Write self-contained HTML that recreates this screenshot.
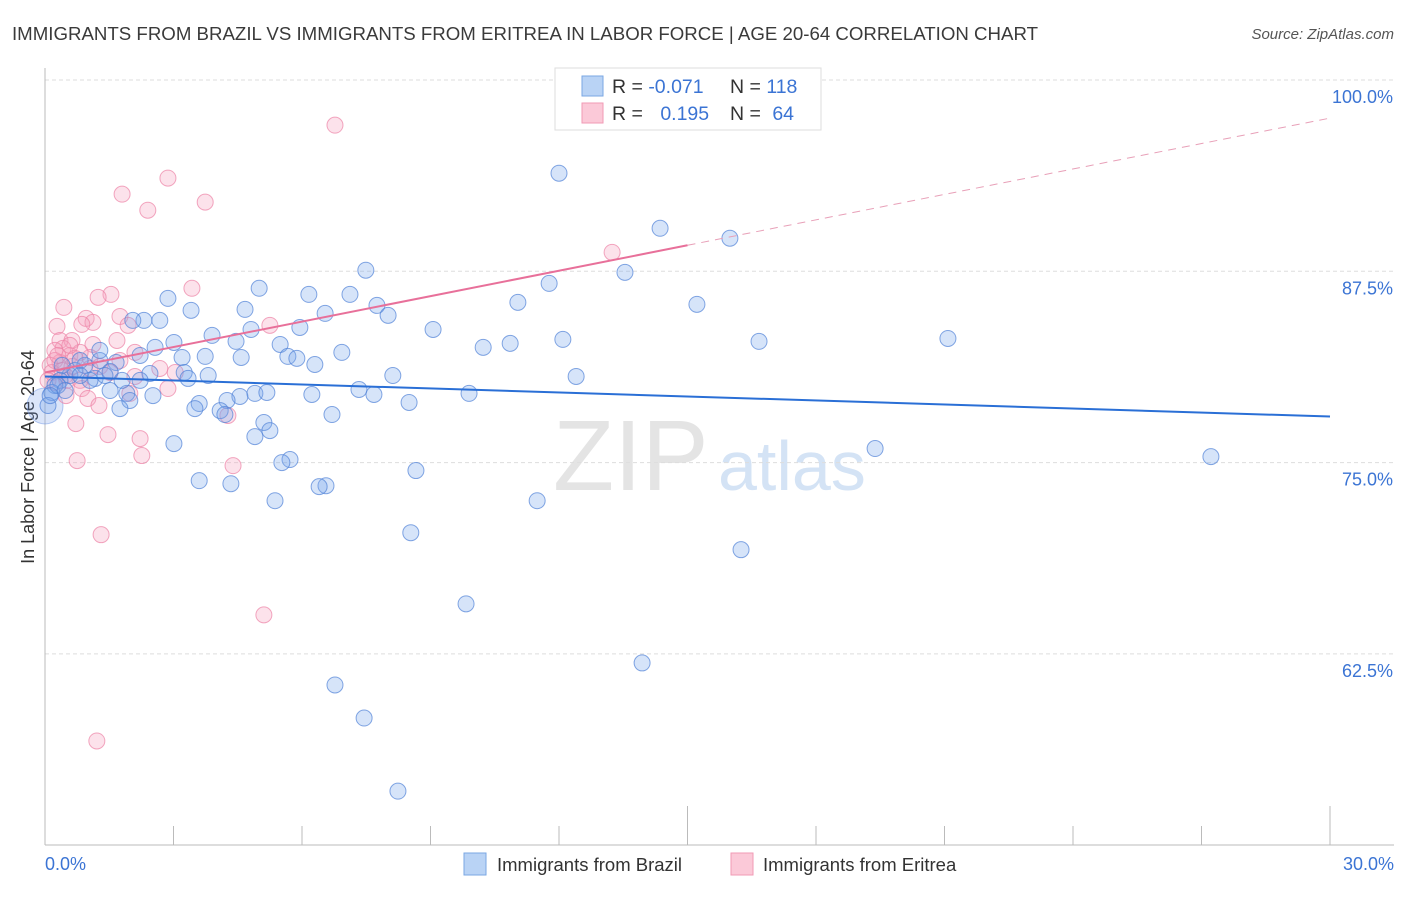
<!DOCTYPE html>
<html><head><meta charset="utf-8"><style>
body{margin:0;background:#fff;font-family:"Liberation Sans",sans-serif;}
svg text{font-family:"Liberation Sans",sans-serif;}
</style></head><body>
<svg id="chart" width="1406" height="892" xmlns="http://www.w3.org/2000/svg">
<text x="12" y="40" font-size="18" textLength="1026" lengthAdjust="spacingAndGlyphs" fill="#3a3a3a">IMMIGRANTS FROM BRAZIL VS IMMIGRANTS FROM ERITREA IN LABOR FORCE | AGE 20-64 CORRELATION CHART</text>
<text x="1394" y="39" font-size="15" fill="#555" font-style="italic" text-anchor="end">Source: ZipAtlas.com</text>
<text transform="translate(34,457) rotate(-90)" font-size="18" fill="#333" text-anchor="middle">In Labor Force | Age 20-64</text>
<g>
<text x="553" y="490" font-size="100" font-family="Liberation Serif,serif" fill="#e4e4e4">ZIP</text>
<text x="718" y="490" font-size="70" fill="#d4e3f5">atlas</text>
</g>
<g id="grid"></g><g id="axes"></g><g id="marks"></g>
<g>
<rect x="555" y="68" width="266" height="62" fill="#fff" stroke="#ddd"/>
<rect x="582" y="76" width="21" height="20" fill="#b9d3f5" stroke="#7aa7e3"/>
<rect x="582" y="103" width="21" height="20" fill="#fbc9d8" stroke="#f09ab5"/>
<text x="612" y="93" font-size="19.5" fill="#333">R = <tspan fill="#3b74d4">-0.071</tspan></text>
<text x="730" y="93" font-size="19.5" fill="#333">N = <tspan fill="#3b74d4">118</tspan></text>
<text x="612" y="120" font-size="19.5" fill="#333">R = <tspan fill="#3b74d4" dx="12">0.195</tspan></text>
<text x="730" y="120" font-size="19.5" fill="#333">N = <tspan fill="#3b74d4" dx="6">64</tspan></text>
</g>
<g>
<rect x="464" y="853" width="22" height="22" fill="#b9d3f5" stroke="#7aa7e3"/>
<text x="497" y="871" font-size="18.5" fill="#333">Immigrants from Brazil</text>
<rect x="731" y="853" width="22" height="22" fill="#fbc9d8" stroke="#f09ab5"/>
<text x="763" y="871" font-size="18.5" fill="#333">Immigrants from Eritrea</text>
</g>
</svg>
<script>
const yTicks=[100,87.5,75,62.5];
const yTickLabels=["100.0%","87.5%","75.0%","62.5%"];
const xTickLabels=["0.0%","30.0%"];
const brazilX=[12.00,14.36,15.99,7.49,13.54,5.00,7.12,6.16,2.87,11.04,11.77,15.22,3.41,4.67,7.75,8.01,6.54,2.31,2.68,2.05,9.06,5.95,3.90,4.46,4.81,3.01,2.57,12.09,10.86,10.23,16.67,21.08,5.49,6.93,5.67,5.88,6.30,3.74,3.20,2.22,1.66,1.28,4.58,3.25,2.45,1.52,3.81,3.34,1.17,0.58,0.35,0.23,0.16,8.12,12.40,7.33,7.68,6.23,4.90,5.18,4.55,4.25,2.52,1.91,1.52,1.98,9.90,8.50,3.60,3.50,4.09,4.20,1.75,6.70,5.11,5.25,4.90,3.01,19.38,27.22,5.72,5.53,8.66,3.60,4.34,6.56,6.40,5.37,11.49,8.54,16.25,9.83,13.94,6.77,7.45,8.24,0.07,0.30,0.70,0.93,1.05,0.47,0.12,0.82,1.28,0.82,0.40,1.40,1.80,2.22];
const brazilY=[93.91,90.31,89.66,87.57,87.43,86.39,85.99,85.99,85.73,85.47,86.71,85.34,84.95,85.01,85.27,84.62,84.75,84.29,84.29,84.29,83.70,83.83,83.31,82.92,83.70,82.85,82.53,83.05,82.79,82.53,82.92,83.11,82.72,82.20,81.94,81.81,81.41,81.94,81.87,82.00,81.54,81.67,81.87,80.89,80.82,80.95,80.69,80.50,80.50,80.69,80.37,80.04,79.58,80.69,80.63,79.78,79.45,79.45,79.52,79.58,79.32,79.06,79.38,79.52,79.71,79.06,79.52,78.93,78.86,78.53,78.40,78.14,78.53,78.14,77.62,77.09,76.70,76.24,75.92,75.39,75.20,75.00,74.48,73.82,73.62,73.49,73.43,72.51,72.51,70.42,69.31,65.77,61.91,60.47,58.31,53.53,78.73,80.04,81.02,81.35,80.37,79.71,79.38,81.67,82.33,80.69,81.35,80.69,80.37,80.37];
const eritreaX=[6.77,2.87,1.80,3.74,2.40,3.43,1.54,1.24,0.44,0.96,1.12,1.75,1.94,5.25,0.28,0.86,0.35,0.63,1.68,1.12,2.10,0.42,0.23,0.58,1.05,0.82,0.35,0.12,0.63,1.28,2.68,3.04,0.16,0.47,1.52,2.10,0.82,0.86,2.87,1.98,1.00,1.26,4.27,0.72,1.47,2.22,2.26,0.75,4.39,13.24,1.31,5.11,1.21,0.23,0.51,0.23,0.40,0.07,1.05,0.70,0.30,0.58,1.75,0.49];
const eritreaY=[97.05,93.59,92.54,92.02,91.49,86.39,85.99,85.80,85.14,84.42,84.16,84.55,83.97,83.97,83.90,84.03,82.98,82.98,82.98,82.72,82.20,82.46,82.33,82.00,81.87,82.20,81.54,81.35,81.28,81.28,81.15,80.89,80.89,80.69,80.89,80.63,80.37,79.84,79.84,79.52,79.19,78.73,78.08,77.55,76.83,76.57,75.46,75.13,74.80,88.74,70.29,65.05,56.81,81.67,80.37,80.24,81.02,80.37,81.15,81.81,82.00,82.66,81.67,79.38];
const brazilTrend=[80.63,78.01];   // y at x=0 and x=30
const eritreaTrend=[80.89,97.51]; // y at x=0 and x=30
const eritreaSolidEnd=15;

const NS="http://www.w3.org/2000/svg";
const X0=45,X1=1330,Y100=80,PX125=191.3,BASE=845;
function sx(v){return X0+(v/30)*(X1-X0);}
function sy(v){return Y100+(100-v)/12.5*PX125;}
function mk(tag,attrs,parent){const e=document.createElementNS(NS,tag);for(const k in attrs)e.setAttribute(k,attrs[k]);parent.appendChild(e);return e;}
const grid=document.getElementById('grid'),axes=document.getElementById('axes'),marks=document.getElementById('marks');
yTicks.forEach((t,i)=>{
  const l=mk('line',{x1:X0,x2:1394,y1:sy(t),y2:sy(t),stroke:'#ddd','stroke-dasharray':'4,3'},grid);
  
  
  const tx=mk('text',{x:1393,y:sy(t)+23,'font-size':18,fill:'#3b74d4','text-anchor':'end'},axes);
  tx.textContent=yTickLabels[i];
  
  
});
let a=mk('line',{x1:X0,x2:X0,y1:68,y2:BASE,stroke:'#bbb'},axes);


a=mk('line',{x1:X0,x2:1394,y1:BASE,y2:BASE,stroke:'#bbb'},axes);


for(let k=1;k<=10;k++){
  const x=sx(k*3),tall=(k===5||k===10);
  const t=mk('line',{x1:x,x2:x,y1:tall?806:826,y2:BASE,stroke:'#bbb'},axes);
  
  
}
[[0,'start',45],[30,'end',1394]].forEach((d,i)=>{
  const t=mk('text',{x:d[2],y:870,'font-size':18,fill:'#3b74d4','text-anchor':d[1]},axes);
  t.textContent=xTickLabels[i];
  
  
});
let bc=mk('circle',{cx:sx(0),cy:sy(78.7),r:18,fill:'rgba(110,150,230,0.25)',stroke:'rgba(110,150,230,0.5)'},marks);


eritreaX.forEach((v,i)=>{
  const c=mk('circle',{cx:sx(v),cy:sy(eritreaY[i]),r:8,fill:'rgba(246,160,190,0.3)',stroke:'rgba(236,130,165,0.7)','stroke-width':1},marks);
  
  
});
brazilX.forEach((v,i)=>{
  const c=mk('circle',{cx:sx(v),cy:sy(brazilY[i]),r:8,fill:'rgba(120,165,235,0.3)',stroke:'rgba(80,130,215,0.7)','stroke-width':1},marks);
  
  
});
let tl=mk('line',{x1:sx(0),y1:sy(brazilTrend[0]),x2:sx(30),y2:sy(brazilTrend[1]),stroke:'#2a6fd6','stroke-width':2},marks);


const ey=v=>eritreaTrend[0]+(eritreaTrend[1]-eritreaTrend[0])*v/30;
tl=mk('line',{x1:sx(0),y1:sy(ey(0)),x2:sx(eritreaSolidEnd),y2:sy(ey(eritreaSolidEnd)),stroke:'#e8709a','stroke-width':2},marks);


tl=mk('line',{x1:sx(eritreaSolidEnd),y1:sy(ey(eritreaSolidEnd)),x2:sx(30),y2:sy(ey(30)),stroke:'#e8a0b8','stroke-width':1,'stroke-dasharray':'8,6'},marks);


</script>
</body></html>
